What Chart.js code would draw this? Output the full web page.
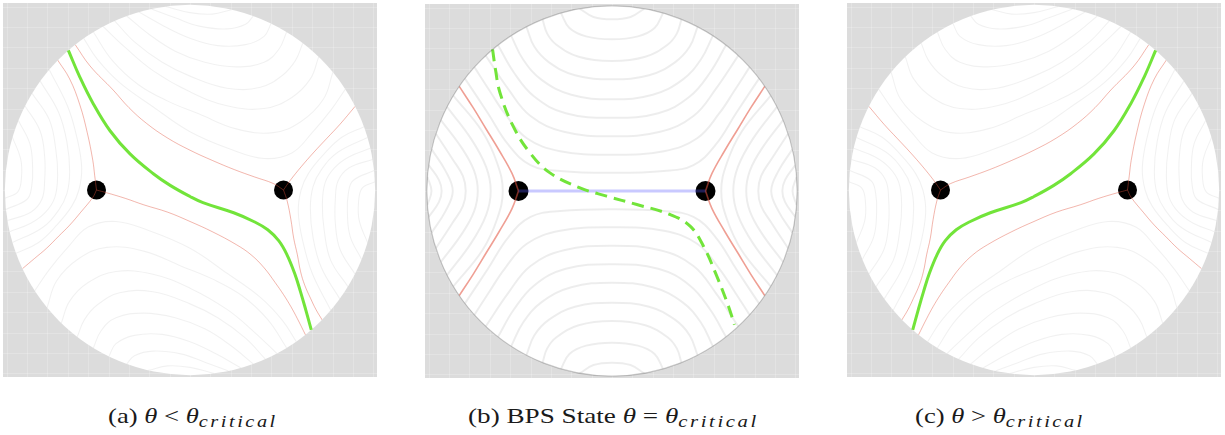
<!DOCTYPE html>
<html><head><meta charset="utf-8">
<script src="https://cdn.jsdelivr.net/npm/chart.js"></script>
<style>
html,body{margin:0;padding:0;background:#fff;width:1225px;height:435px;overflow:hidden;position:relative}
.pan{position:absolute;width:374px;height:374px}
.cap{position:absolute;top:404px;left:0;white-space:nowrap;font-family:'Liberation Serif','Times New Roman',serif;font-weight:normal;font-size:21px;line-height:24px;color:#1a1a1a;transform-origin:center center}
.cap i{font-style:italic}
.cap sub{font-size:16px;font-style:italic;vertical-align:-4px;line-height:0;letter-spacing:2px}
</style></head><body>
<div class="pan" style="left:3px;top:3px"><canvas id="chartA"></canvas></div>
<div class="pan" style="left:425px;top:4px"><canvas id="chartB"></canvas></div>
<div class="pan" style="left:847px;top:3px"><canvas id="chartC"></canvas></div>
<div id="capA" class="cap">(a) <i>θ</i> &lt; <i>θ</i><sub>critical</sub></div>
<div id="capB" class="cap">(b) BPS State <i>θ</i> = <i>θ</i><sub>critical</sub></div>
<div id="capC" class="cap">(c) <i>θ</i> &gt; <i>θ</i><sub>critical</sub></div>
<script>
// ---------- data (units: disk radius = 100, centre = 0,0) ----------
const DISK_R = 100;
const PANEL_HALF = 101;   // half-width of each grey square, in data units
const GRID_STEP = 11;

// Panel (a): theta < critical  (panel (c) is its mirror image, drawn with a reversed x scale)
const A_dots = [[-50.5,0],[50.5,0]];
const A_green = [[-65.7,75.4],[-59.5,61],[-52.2,46.5],[-43.2,32],[-32.4,19.5],[-19.8,8.8],[-10.7,2.5],[0,-3.5],[7,-6.8],[23.6,-12.3],[34.4,-17],[42,-21.5],[48,-27.5],[52.4,-35],[56.5,-45],[59.7,-55],[62.6,-65],[65.5,-75.5]];
const A_red = [
  [[-50.5,0],[-51.5,8],[-52.5,16],[-55.5,31],[-59.5,46],[-65,60],[-71.5,70.2]],
  [[-50.5,0],[-52.5,-4],[-59,-12],[-65,-19],[-71,-25],[-77.5,-31.5],[-84,-37],[-90.5,-42.5]],
  [[-50.5,0],[-45,-1.5],[-35,-4.5],[-25,-8],[-12,-12],[0,-17],[12,-22.5],[25,-29.5],[33,-35],[40,-42],[46,-50],[50.5,-56.5],[54.5,-63],[58,-69.5],[62.4,-78.3]],
  [[50.5,0],[54,5],[60,12.5],[67,20.5],[74,28],[81,35.5],[89.2,45.2]],
  [[50.5,0],[52.5,-6],[54.5,-16],[56,-26],[58,-35],[59.7,-44],[62,-51.5],[65.1,-58.5],[68,-64.5],[71.4,-70.2]],
  [[50.5,0],[45,3.5],[35,7],[24,11],[12,16],[0,21.5],[-12,28],[-23.5,36],[-33,44.5],[-41.5,54],[-54,67],[-62,78.5]]
];
const A_grayTop = [
  [[-57.4,81.9],[-50,70.5],[-38,58],[-20,45],[0,31.5],[22,22],[40,17],[55,20],[66,31],[76,43],[83.9,54.5]],
  [[-52.2,85.3],[-42,70],[-28,57],[-12,48],[5,41],[25,33],[45,31],[60,37],[72,49],[77.2,63.6]],
  [[-46.9,88.3],[-35,77],[-20,64.5],[0,53],[20,45.5],[40,44],[55,50],[65,60],[69.5,71.9]],
  [[-40.7,91.4],[-30,80],[-15,69],[0,61.5],[20,55],[38,55.5],[50,62],[57,70],[60.9,79.3]],
  [[-34.2,94],[-22,84],[-8,75],[8,69],[25,66.5],[40,69],[48,76],[52.2,85.3]],
  [[-27.6,96.1],[-14,88.5],[0,82],[15,78],[30,78.5],[40,83],[43.8,89.9]],
  [[-20.8,97.8],[-8,93],[5,88.5],[20,87],[30,89.5],[34.2,94]],
  [[-13.1,99.1],[0,95.8],[12,95],[22.5,97.4]]
];
const A_grayBottom = [
  [[57.4,-81.9],[50,-70.5],[38,-58],[20,-45],[0,-31.5],[-22,-22],[-40,-17],[-55,-20],[-66,-31],[-76,-43],[-83.9,-54.5]],
  [[52.2,-85.3],[42,-70],[28,-57],[12,-48],[-5,-41],[-25,-33],[-45,-31],[-60,-37],[-72,-49],[-77.2,-63.6]],
  [[46.9,-88.3],[35,-77],[20,-64.5],[0,-53],[-20,-45.5],[-40,-44],[-55,-50],[-65,-60],[-69.5,-71.9]],
  [[40.7,-91.4],[30,-80],[15,-69],[0,-61.5],[-20,-55],[-38,-55.5],[-50,-62],[-57,-70],[-60.9,-79.3]],
  [[34.2,-94],[22,-84],[8,-75],[-8,-69],[-25,-66.5],[-40,-69],[-48,-76],[-52.2,-85.3]],
  [[27.6,-96.1],[14,-88.5],[0,-82],[-15,-78],[-30,-78.5],[-40,-83],[-43.8,-89.9]],
  [[20.8,-97.8],[8,-93],[-5,-88.5],[-20,-87],[-30,-89.5],[-34.2,-94]],
  [[13.1,-99.1],[0,-95.8],[-12,-95],[-22.5,-97.4]]
];
const A_grayLeft = [
  [[-76,64.9],[-66,45],[-61,28],[-58.5,12],[-60,0],[-64,-9],[-72,-19],[-82,-28.5],[-94,-34.2]],
  [[-80.9,58.8],[-71,42],[-66.5,26],[-65,10],[-66.5,-2],[-71,-11],[-80,-20.5],[-95.9,-28.4]],
  [[-85.3,52.2],[-76,38],[-72.5,22],[-71.5,8],[-73,-4],[-78,-12],[-86,-18],[-97.4,-22.5]],
  [[-89.1,45.4],[-81,32],[-78.5,18],[-78.5,5],[-80,-5],[-86,-12],[-98.6,-16.5]],
  [[-92.7,37.5],[-86.5,25],[-85,12],[-85.5,2],[-88,-5],[-99.5,-10.5]],
  [[-95.9,28.4],[-91.5,17],[-91,7],[-93,-1],[-99.9,-4.4]]
];
const A_grayRight = [
  [[76,-64.9],[66,-45],[61,-28],[58.5,-12],[60,0],[64,9],[72,19],[82,28.5],[94,34.2]],
  [[80.9,-58.8],[71,-42],[66.5,-26],[65,-10],[66.5,2],[71,11],[80,20.5],[95.9,28.4]],
  [[85.3,-52.2],[76,-38],[72.5,-22],[71.5,-8],[73,4],[78,12],[86,18],[97.4,22.5]],
  [[89.1,-45.4],[81,-32],[78.5,-18],[78.5,-5],[80,5],[86,12],[98.6,16.5]],
  [[92.7,-37.5],[86.5,-25],[85,-12],[85.5,-2],[88,5],[99.5,10.5]],
  [[95.9,-28.4],[91.5,-17],[91,-7],[93,1],[99.9,4.4]]
];

// Panel (b): BPS state, theta = critical
const B_dots = [[-50.5,0],[50.5,0]];
const B_bps = [[-50.5,0],[50.5,0]];
const B_green = [[-64.5,76.5],[-63,66],[-60.5,53.1],[-53.4,35],[-44.3,20.6],[-33.5,9.8],[-17.3,1.7],[-2.9,-2.8],[13.4,-7.3],[31.4,-12.7],[42.2,-19],[49.4,-29.8],[56.6,-46],[62.9,-62.2],[66.1,-72.2]];
const B_red = [
  [[-50.5,0],[-54,9.5],[-61,22],[-68,33.5],[-75,45],[-82.5,56.5]],
  [[-50.5,0],[-54,-9.5],[-61,-22],[-68,-33.5],[-75,-45],[-82.5,-56.5]],
  [[50.5,0],[54,9.5],[61,22],[68,33.5],[75,45],[82.5,56.5]],
  [[50.5,0],[54,-9.5],[61,-22],[68,-33.5],[75,-45],[82.5,-56.5]]
];
const B_grayTop = [
  [[-79.4,60.7],[-67,42],[-56,25],[-44,14],[-28,10.8],[0,9.8],[28,10.8],[44,14],[56,25],[67,42],[79.4,60.7]],
  [[-74.3,66.9],[-66,54],[-58,42],[-46,28.5],[-28,21.5],[0,19.6],[28,21.5],[46,28.5],[58,42],[66,54],[74.3,66.9]],
  [[-68.2,73.1],[-56,55],[-44,40.5],[-26,32],[0,29.6],[26,32],[44,40.5],[56,55],[68.2,73.1]],
  [[-61.6,78.8],[-53,64],[-42,51],[-25,42],[0,39.5],[25,42],[42,51],[53,64],[61.6,78.8]],
  [[-54.5,83.9],[-48,71],[-38,60],[-22,52],[0,49.5],[22,52],[38,60],[48,71],[54.5,83.9]],
  [[-46.2,88.7],[-42,78],[-34,69.5],[-20,62.5],[0,60.3],[20,62.5],[34,69.5],[42,78],[46.2,88.7]],
  [[-37.5,92.7],[-35,85],[-30,79],[-18,72.5],[0,70.2],[18,72.5],[30,79],[35,85],[37.5,92.7]],
  [[-27.6,96.1],[-23,88],[-14,83.5],[0,81.9],[14,83.5],[23,88],[27.6,96.1]],
  [[-17.4,98.5],[-10,94],[0,92.7],[10,94],[17.4,98.5]]
];
const B_grayBottom = [
  [[-79.4,-60.7],[-67,-42],[-56,-25],[-44,-14],[-28,-10.8],[0,-9.8],[28,-10.8],[44,-14],[56,-25],[67,-42],[79.4,-60.7]],
  [[-74.3,-66.9],[-66,-54],[-58,-42],[-46,-28.5],[-28,-21.5],[0,-19.6],[28,-21.5],[46,-28.5],[58,-42],[66,-54],[74.3,-66.9]],
  [[-68.2,-73.1],[-56,-55],[-44,-40.5],[-26,-32],[0,-29.6],[26,-32],[44,-40.5],[56,-55],[68.2,-73.1]],
  [[-61.6,-78.8],[-53,-64],[-42,-51],[-25,-42],[0,-39.5],[25,-42],[42,-51],[53,-64],[61.6,-78.8]],
  [[-54.5,-83.9],[-48,-71],[-38,-60],[-22,-52],[0,-49.5],[22,-52],[38,-60],[48,-71],[54.5,-83.9]],
  [[-46.2,-88.7],[-42,-78],[-34,-69.5],[-20,-62.5],[0,-60.3],[20,-62.5],[34,-69.5],[42,-78],[46.2,-88.7]],
  [[-37.5,-92.7],[-35,-85],[-30,-79],[-18,-72.5],[0,-70.2],[18,-72.5],[30,-79],[35,-85],[37.5,-92.7]],
  [[-27.6,-96.1],[-23,-88],[-14,-83.5],[0,-81.9],[14,-83.5],[23,-88],[27.6,-96.1]],
  [[-17.4,-98.5],[-10,-94],[0,-92.7],[10,-94],[17.4,-98.5]]
];
const B_grayLeft = [
  [[-85.7,51.5],[-70,32],[-62,15],[-59,0],[-62,-15],[-70,-32],[-85.7,-51.5]],
  [[-89.1,45.4],[-76,28],[-68,13],[-65.5,0],[-68,-13],[-76,-28],[-89.1,-45.4]],
  [[-92.4,38.3],[-81,23],[-74.5,11],[-72.5,0],[-74.5,-11],[-81,-23],[-92.4,-38.3]],
  [[-95.1,30.9],[-86,17],[-80.5,8],[-79,0],[-80.5,-8],[-86,-17],[-95.1,-30.9]],
  [[-97.4,22.5],[-90,11],[-86,0],[-90,-11],[-97.4,-22.5]],
  [[-99,14],[-93.5,6],[-92,0],[-93.5,-6],[-99,-14]],
  [[-99.7,7.5],[-97.5,0],[-99.7,-7.5]]
];
const B_grayRight = [
  [[85.7,51.5],[70,32],[62,15],[59,0],[62,-15],[70,-32],[85.7,-51.5]],
  [[89.1,45.4],[76,28],[68,13],[65.5,0],[68,-13],[76,-28],[89.1,-45.4]],
  [[92.4,38.3],[81,23],[74.5,11],[72.5,0],[74.5,-11],[81,-23],[92.4,-38.3]],
  [[95.1,30.9],[86,17],[80.5,8],[79,0],[80.5,-8],[86,-17],[95.1,-30.9]],
  [[97.4,22.5],[90,11],[86,0],[90,-11],[97.4,-22.5]],
  [[99,14],[93.5,6],[92,0],[93.5,-6],[99,-14]],
  [[99.7,7.5],[97.5,0],[99.7,-7.5]]
];

// ---------- rendering ----------
const toXY = pts => pts.map(p => ({x:p[0], y:p[1]}));
function lineDs(pts, color, width, order, extra){
  return Object.assign({data:toXY(pts), showLine:true, pointRadius:0, pointHoverRadius:0,
    borderColor:color, borderWidth:width, tension:0.4, fill:false, order:order, clipDisk:true, clip:false}, extra || {});
}
function dotsDs(pts, r, order){
  return {data:toXY(pts), showLine:false, pointRadius:r, pointHoverRadius:r,
    backgroundColor:'#000', borderWidth:0, order:order, clip:false};
}
function geom(chart){
  const xs = chart.scales.x, ys = chart.scales.y;
  const cx = xs.getPixelForValue(0), cy = ys.getPixelForValue(0);
  const r = Math.abs(xs.getPixelForValue(DISK_R) - cx);
  return {cx, cy, r};
}
const diskPlugin = {
  id:'disk',
  beforeDraw(chart){
    const ctx = chart.ctx, xs = chart.scales.x, ys = chart.scales.y;
    ctx.save(); ctx.fillStyle = '#dcdcdc';
    ctx.fillRect(0, 0, chart.width, chart.height);
    ctx.strokeStyle = 'rgba(255,255,255,0.22)'; ctx.lineWidth = 1;
    for (let v = -GRID_STEP*9; v <= GRID_STEP*9; v += GRID_STEP){
      const px = Math.round(xs.getPixelForValue(v)) + 0.5, py = Math.round(ys.getPixelForValue(v)) + 0.5;
      ctx.beginPath(); ctx.moveTo(px, 0); ctx.lineTo(px, chart.height); ctx.stroke();
      ctx.beginPath(); ctx.moveTo(0, py); ctx.lineTo(chart.width, py); ctx.stroke();
    }
    ctx.restore();
  },
  beforeDatasetsDraw(chart){
    const {cx, cy, r} = geom(chart); const ctx = chart.ctx;
    ctx.save(); ctx.fillStyle = '#ffffff'; ctx.beginPath(); ctx.arc(cx, cy, r, 0, Math.PI*2); ctx.fill(); ctx.restore();
  },
  beforeDatasetDraw(chart, args){
    if (!chart.data.datasets[args.index].clipDisk) return;
    const {cx, cy, r} = geom(chart); const ctx = chart.ctx;
    ctx.save(); ctx.beginPath(); ctx.arc(cx, cy, r, 0, Math.PI*2); ctx.clip();
  },
  afterDatasetDraw(chart, args){
    if (!chart.data.datasets[args.index].clipDisk) return;
    chart.ctx.restore();
  },
  afterDatasetsDraw(chart, args, opts){
    if (!opts.outline) return;
    const {cx, cy, r} = geom(chart); const ctx = chart.ctx;
    ctx.save(); ctx.strokeStyle = 'rgba(0,0,0,0.2)'; ctx.lineWidth = 1.2;
    ctx.beginPath(); ctx.arc(cx, cy, r, 0, Math.PI*2); ctx.stroke(); ctx.restore();
  }
};
function axis(rev){
  return {type:'linear', display:false, min:-PANEL_HALF, max:PANEL_HALF, reverse:rev};
}
function makeChart(id, datasets, reverse, outline){
  const chart = new Chart(document.getElementById(id), {
    type:'scatter', data:{datasets},
    options:{responsive:true, maintainAspectRatio:false, animation:false, events:[],
      layout:{padding:0},
      plugins:{legend:{display:false}, tooltip:{enabled:false}, disk:{outline:outline}},
      scales:{x:axis(reverse), y:axis(false)}},
    plugins:[diskPlugin]
  });
  // Chart.js insets the plot area by the marker radius; shrink the ranges so that
  // +-PANEL_HALF still lands on the edges of the canvas.
  const a = chart.chartArea;
  const kx = (a.right - a.left) / chart.width, ky = (a.bottom - a.top) / chart.height;
  chart.options.scales.x.min = -PANEL_HALF * kx; chart.options.scales.x.max = PANEL_HALF * kx;
  chart.options.scales.y.min = -PANEL_HALF * ky; chart.options.scales.y.max = PANEL_HALF * ky;
  chart.update();
  return chart;
}

function panelADatasets(){
  const ds = [];
  const GRAY = 'rgba(0,0,0,0.055)', RED = 'rgba(225,80,60,0.42)';
  [A_grayTop, A_grayBottom, A_grayLeft, A_grayRight].forEach(group =>
    group.forEach(l => ds.push(lineDs(l, GRAY, 1.1, 5))));
  ds.push(dotsDs(A_dots, 9.5, 3));
  A_red.forEach(l => ds.push(lineDs(l, RED, 1, 2)));
  ds.push(lineDs(A_green, '#72e43a', 3, 0, {clipDisk:false}));
  return ds;
}
function panelBDatasets(){
  const ds = [];
  const GRAY = 'rgba(0,0,0,0.07)', RED = 'rgba(225,80,60,0.55)';
  [B_grayTop, B_grayBottom, B_grayLeft, B_grayRight].forEach(group =>
    group.forEach(l => ds.push(lineDs(l, GRAY, 2, 5))));
  ds.push(dotsDs(B_dots, 10, 3));
  B_red.forEach(l => ds.push(lineDs(l, RED, 1.6, 2)));
  ds.push(lineDs(B_bps, 'rgba(90,90,255,0.33)', 3, 1, {tension:0}));
  ds.push(lineDs(B_green, '#72e43a', 3, 0, {clipDisk:false, borderDash:[12,7]}));
  return ds;
}

makeChart('chartA', panelADatasets(), false, false);
makeChart('chartB', panelBDatasets(), false, true);
makeChart('chartC', panelADatasets(), true, false);

// captions: centre and overall width of each caption line (the printed captions are wide)
const capLayout = [['capA', 193, 170], ['capB', 613, 291], ['capC', 1000, 170]];
capLayout.forEach(([id, cx, w]) => {
  const el = document.getElementById(id);
  const bw = el.offsetWidth;
  el.style.left = (cx - bw/2) + 'px';
  el.style.transform = 'scaleX(' + (w / bw) + ')';
});
</script>
</body></html>
